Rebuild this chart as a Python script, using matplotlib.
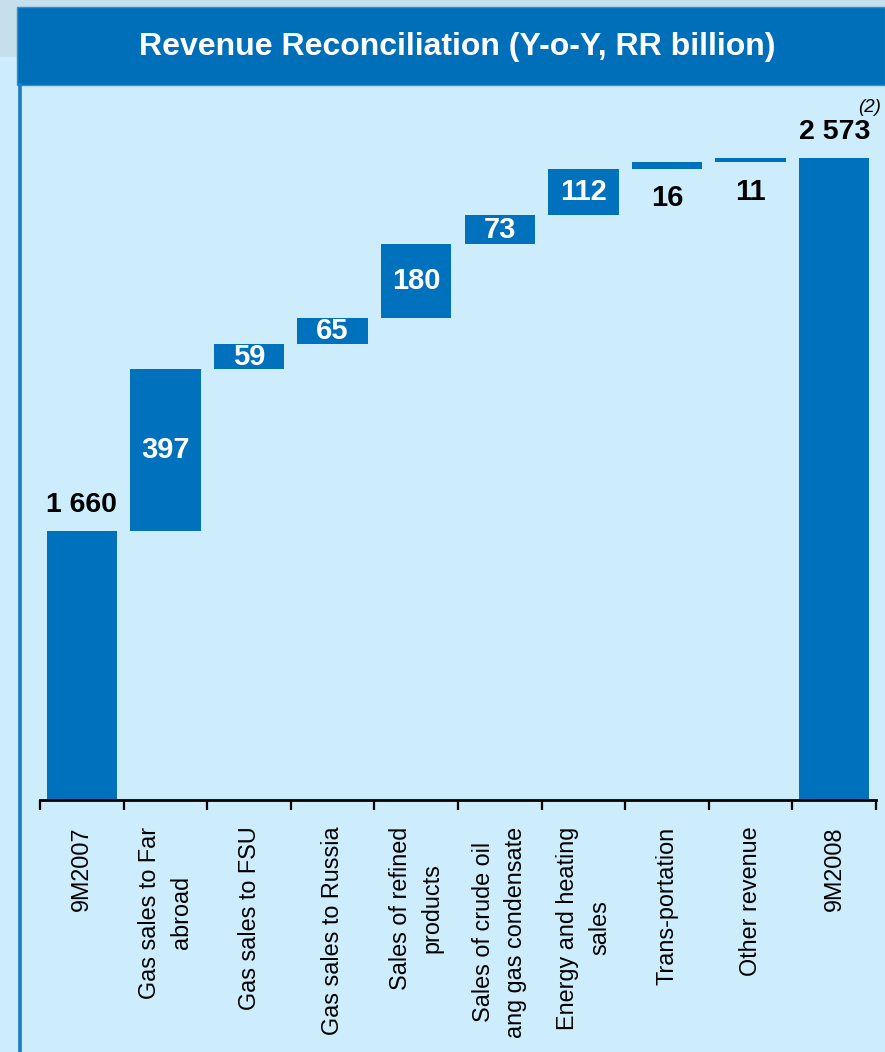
import matplotlib
matplotlib.use("Agg")
import matplotlib.pyplot as plt
from matplotlib.patches import Rectangle
import numpy as np

plt.rcParams['font.family'] = ['Liberation Sans', 'DejaVu Sans']

categories = [
    "9M2007",
    "Gas sales to Far\nabroad",
    "Gas sales to FSU",
    "Gas sales to Russia",
    "Sales of refined\nproducts",
    "Sales of crude oil\nang gas condensate",
    "Energy and heating\nsales",
    "Trans-portation",
    "Other revenue",
    "9M2008",
]
values = [1660, 397, 59, 65, 180, 73, 112, 16, 11, 2573]
is_total = [True, False, False, False, False, False, False, False, False, True]
value_labels = ["1 660", "397", "59", "65", "180", "73", "112", "16", "11", "2 573"]

BG = "#cdedfd"
STRIP = "#c5e0ec"
BLUE = "#0072bd"
BORDER = "#1a7dc6"

fig = plt.figure(figsize=(8.85, 10.52), dpi=100)
fig.patch.set_facecolor(BG)
W, H = 885, 1052

def fx(px):
    return px / W

def fy(py):
    return 1 - py / H

# header strip, title bar and left frame line
fig.patches.append(Rectangle((0, fy(57)), 1, 57 / H, transform=fig.transFigure,
                             facecolor=STRIP, edgecolor="none", zorder=0))
fig.patches.append(Rectangle((fx(17), fy(85)), 1 - fx(17), (85 - 7) / H,
                             transform=fig.transFigure, facecolor="#006fba",
                             edgecolor="#3a8dcc", linewidth=1, zorder=1))
fig.lines.append(plt.Line2D([fx(19.5), fx(19.5)], [0, fy(85)], transform=fig.transFigure,
                            color=BORDER, linewidth=2.6, zorder=2))
fig.text(fx(457), fy(47), "Revenue Reconciliation (Y-o-Y, RR billion)", color="white",
         fontsize=23, fontweight="bold", ha="center", va="center", zorder=3)

ax = fig.add_axes([fx(40), fy(800), fx(876) - fx(40), (800 - 100) / H])
ax.set_facecolor("none")

x = np.arange(len(categories))
bottoms = []
running = 0
for v, tot in zip(values, is_total):
    if tot:
        bottoms.append(0)
        running = v
    else:
        bottoms.append(running)
        running += v
heights = values

ax.bar(x, heights, bottom=bottoms, width=0.84, color=BLUE, edgecolor="none", zorder=2)

ax.set_xlim(-0.5, len(categories) - 0.5)
ax.set_ylim(1000, 2715)

for i, (v, b, tot, lab) in enumerate(zip(values, bottoms, is_total, value_labels)):
    top = b + v
    if tot:
        ax.annotate(lab, (i, top), xytext=(0, 9), textcoords="offset points",
                    ha="center", va="bottom", fontsize=20.5, fontweight="bold", color="black")
    elif v >= 40:
        ax.text(i, b + v / 2, lab, ha="center", va="center", fontsize=21,
                fontweight="bold", color="white")
    else:
        ax.annotate(lab, (i, b), xytext=(0, -11), textcoords="offset points",
                    ha="center", va="top", fontsize=21, fontweight="bold", color="black")

# footnote marker on the closing total
fig.text(fx(870), fy(99), "(2)", ha="center", va="top", fontsize=13.5,
         fontstyle="italic", color="black")

for s in ["left", "right", "top"]:
    ax.spines[s].set_visible(False)
ax.spines["bottom"].set_linewidth(2)
ax.spines["bottom"].set_color("black")
ax.set_yticks([])

ax.set_xticks(np.arange(-0.5, len(categories), 1.0))
ax.set_xticklabels([])
ax.tick_params(axis="x", which="major", direction="out", length=7, width=1.6, color="black")
ax.set_xticks(x, minor=True)
ax.set_xticklabels(categories, minor=True, rotation=90, fontsize=16.8,
                   ha="center", va="top", multialignment="center", linespacing=1.5)
ax.tick_params(axis="x", which="minor", length=0, pad=19)

fig.savefig("out.png", dpi=100, facecolor=fig.get_facecolor())
